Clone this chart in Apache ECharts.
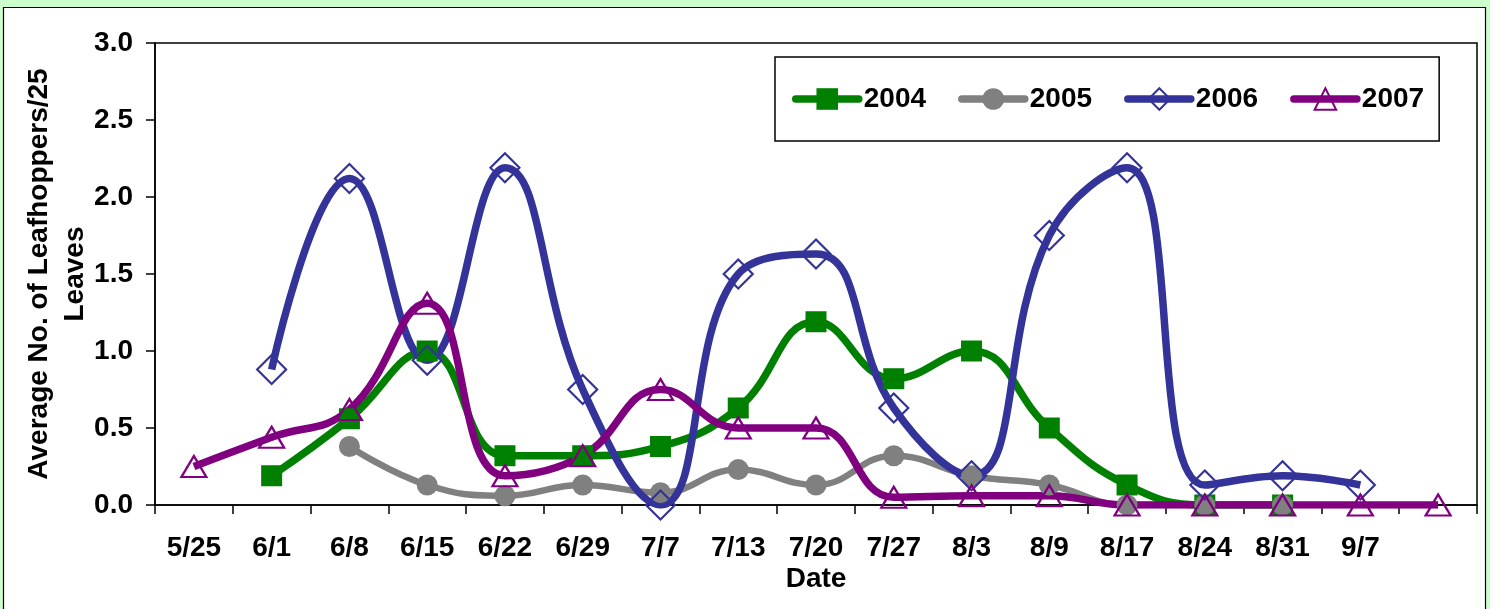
<!DOCTYPE html>
<html>
<head>
<meta charset="utf-8">
<script src="https://cdn.jsdelivr.net/npm/echarts@6/dist/echarts.min.js"></script>
<style>
  html, body { margin: 0; padding: 0; background: #ccffcc; }
  #chart { width: 1490px; height: 609px; }
</style>
</head>
<body>
<div id="chart"></div>
<script>
// sampling dates (last slot is unlabeled in the original)
const dates = ["5/25", "6/1", "6/8", "6/15", "6/22", "6/29", "7/7", "7/13", "7/20",
  "7/27", "8/3", "8/9", "8/17", "8/24", "8/31", "9/7", ""];

const y2004 = [null, 0.19, 0.56, 1.0, 0.32, 0.32, 0.38, 0.63, 1.19, 0.82, 1.0, 0.5, 0.13, 0, 0, null, null];
const y2005 = [null, null, 0.38, 0.13, 0.06, 0.13, 0.08, 0.23, 0.13, 0.32, 0.19, 0.13, 0, 0, 0, null, null];
const y2006 = [null, 0.88, 2.12, 0.94, 2.19, 0.75, 0, 1.5, 1.63, 0.63, 0.19, 1.75, 2.19, 0.13, 0.19, 0.13, null];
const y2007 = [0.25, 0.44, 0.62, 1.31, 0.19, 0.32, 0.75, 0.5, 0.5, 0.05, 0.06, 0.06, 0, 0, 0, 0, 0];

const yTicks = { min: 0, max: 3, step: 0.5 };

const font = 'Arial, "Liberation Sans", sans-serif';
const fs = 28;
const lw = 7.5;
const smoothness = 0.45;

const chart = echarts.init(document.getElementById("chart"));

const option = {
  backgroundColor: "#ccffcc",
  animation: false,
  graphic: [
    {
      type: "rect",
      z: -10,
      shape: { x: 3.5, y: 7.5, width: 1482, height: 640 },
      style: { fill: "#ffffff", stroke: "#000000", lineWidth: 1.2 },
    },
  ],
  grid: {
    left: 155,
    top: 43,
    right: 13,
    bottom: 104,
    show: true,
    borderColor: "#000000",
    borderWidth: 1.5,
    backgroundColor: "transparent",
  },
  legend: {
    left: 775,
    top: 57,
    padding: [28, 15, 28, 17],
    itemWidth: 63,
    itemHeight: 27,
    itemGap: 32,
    backgroundColor: "#ffffff",
    borderColor: "#000000",
    borderWidth: 1.5,
    lineStyle: { width: lw, cap: "round" },
    textStyle: { fontFamily: font, fontWeight: "bold", fontSize: fs, color: "#000" },
    data: ["2004", "2005", "2006", "2007"],
  },
  xAxis: {
    type: "category",
    data: dates,
    boundaryGap: true,
    name: "Date",
    nameLocation: "middle",
    nameGap: 60,
    nameMoveOverlap: false,
    nameTextStyle: { fontFamily: font, fontWeight: "bold", fontSize: fs, color: "#000" },
    axisLine: { lineStyle: { color: "#000", width: 1.5 } },
    axisTick: { show: true, length: 9, interval: 0, lineStyle: { color: "#000", width: 1.5 } },
    axisLabel: { interval: 0, margin: 29, fontFamily: font, fontWeight: "bold", fontSize: fs, color: "#000" },
    splitLine: { show: false },
  },
  yAxis: {
    type: "value",
    min: yTicks.min,
    max: yTicks.max,
    interval: yTicks.step,
    name: "Average No. of Leafhoppers/25\nLeaves",
    nameLocation: "middle",
    nameGap: 62,
    nameMoveOverlap: false,
    nameTextStyle: { fontFamily: font, fontWeight: "bold", fontSize: fs, color: "#000", lineHeight: 36, align: "center" },
    axisLine: { show: true, lineStyle: { color: "#000", width: 1.5 } },
    axisTick: { show: true, length: 9, lineStyle: { color: "#000", width: 1.5 } },
    axisLabel: {
      margin: 22,
      fontFamily: font, fontWeight: "bold", fontSize: fs, color: "#000",
      formatter: (v) => v.toFixed(1),
    },
    splitLine: { show: false },
  },
  series: [
    {
      name: "2004",
      type: "line",
      data: y2004,
      smooth: smoothness,
      symbol: "rect",
      symbolSize: 21,
      lineStyle: { color: "#008000", width: lw },
      itemStyle: { color: "#008000" },
    },
    {
      name: "2005",
      type: "line",
      data: y2005,
      smooth: smoothness,
      symbol: "circle",
      symbolSize: 21,
      lineStyle: { color: "#808080", width: lw - 1 },
      itemStyle: { color: "#808080" },
    },
    {
      name: "2006",
      type: "line",
      data: y2006,
      smooth: smoothness,
      symbol: "diamond",
      symbolSize: 29,
      lineStyle: { color: "#333399", width: lw },
      itemStyle: { color: "rgba(255,255,255,0)", borderColor: "#333399", borderWidth: 2.2 },
    },
    {
      name: "2007",
      type: "line",
      data: y2007,
      smooth: smoothness,
      symbol: "triangle",
      symbolSize: [25, 21],
      lineStyle: { color: "#800080", width: lw },
      itemStyle: { color: "rgba(255,255,255,0)", borderColor: "#800080", borderWidth: 2.2 },
    },
  ],
};

chart.setOption(option);
</script>
</body>
</html>
